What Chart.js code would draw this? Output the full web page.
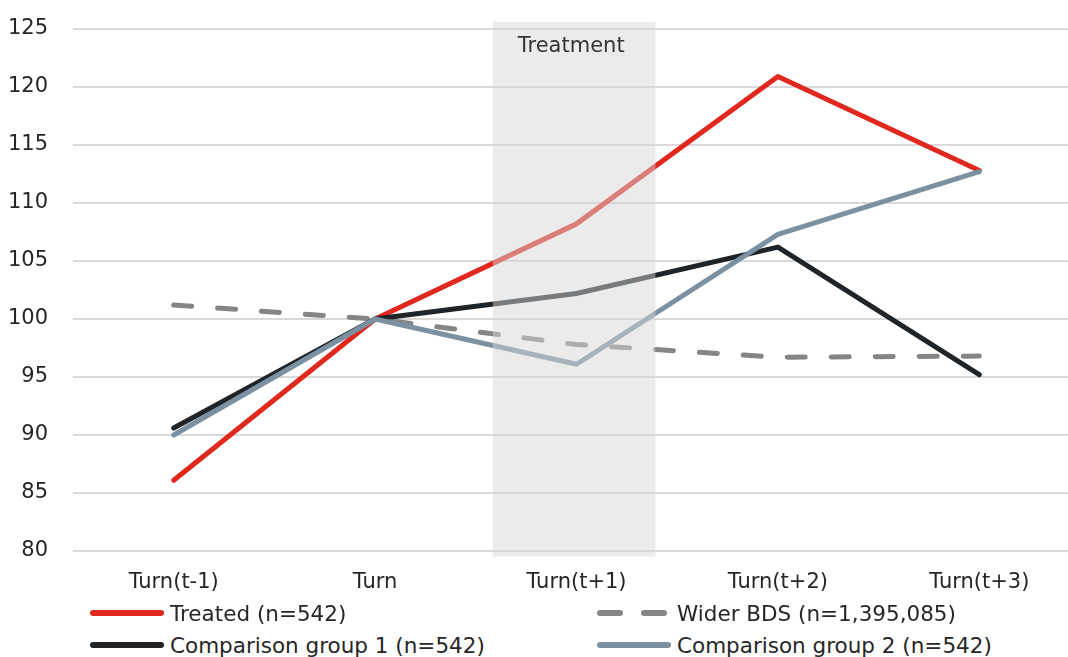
<!DOCTYPE html>
<html>
<head>
<meta charset="utf-8">
<script src="https://cdn.jsdelivr.net/npm/chart.js@4.4.1/dist/chart.umd.min.js"></script>
<style>
  html, body { margin: 0; padding: 0; background: #fff; overflow: hidden; }
  #wrap { position: relative; width: 1068px; height: 657px; overflow: hidden; background: #fff; }
  #holder { position: absolute; left: 0; top: 0; width: 1080px; height: 600px; }
  .item { position: absolute; display: flex; align-items: center; height: 30px;
          font-family: "DejaVu Sans", sans-serif; font-size: 21.5px; color: #262626; white-space: nowrap; }
  .item svg { margin-right: 6px; }
</style>
</head>
<body>
<div id="wrap">
  <div id="holder"><canvas id="chart" width="1080" height="600"></canvas></div>
  <div id="legend"></div>
</div>
<script>
// Index values, Turn = 100
const categories = ["Turn(t-1)", "Turn", "Turn(t+1)", "Turn(t+2)", "Turn(t+3)"];
const treated     = [86.1, 100, 108.2, 120.9, 112.8];
const widerBDS    = [101.2, 100, 97.8, 96.7, 96.8];
const comparison1 = [90.6, 100, 102.2, 106.2, 95.2];
const comparison2 = [90.0, 100, 96.1, 107.3, 112.7];
const seriesNames = ["Treated (n=542)", "Wider BDS (n=1,395,085)", "Comparison group 1 (n=542)", "Comparison group 2 (n=542)"];
const yTicks = [80, 85, 90, 95, 100, 105, 110, 115, 120, 125];
const treatmentLabel = "Treatment";
const treatmentIndex = 2;

const FONT = '"DejaVu Sans", sans-serif';
const colors = ["#e0281e", "#858585", "#1f2429", "#7b91a1"];

// Shaded band over the treatment period, drawn above the lines
const treatmentBand = {
  id: 'treatmentBand',
  afterDatasetsDraw(chart) {
    const { ctx, scales: { x, y } } = chart;
    const cx = x.getPixelForValue(treatmentIndex);
    const step = x.getPixelForValue(1) - x.getPixelForValue(0);
    const left = cx - 0.415 * step;
    const right = cx + 0.392 * step;
    const top = y.getPixelForValue(125.6);
    const bottom = y.getPixelForValue(79.5);
    ctx.save();
    ctx.fillStyle = 'rgba(214,214,214,0.49)';
    ctx.fillRect(left, top, right - left, bottom - top);
    ctx.fillStyle = '#333333';
    ctx.font = '21px ' + FONT;
    ctx.textAlign = 'center';
    ctx.textBaseline = 'middle';
    ctx.fillText(treatmentLabel, (left + right) / 2 - 3, y.getPixelForValue(123.45));
    ctx.restore();
  }
};

const lineBase = {
  borderWidth: 5,
  pointRadius: 0,
  pointHoverRadius: 0,
  tension: 0,
  fill: false,
  borderCapStyle: 'round',
  borderJoinStyle: 'round'
};

new Chart(document.getElementById('chart'), {
  type: 'line',
  data: {
    labels: categories,
    datasets: [
      { ...lineBase, label: seriesNames[0], data: treated, borderColor: colors[0], order: 3 },
      { ...lineBase, label: seriesNames[1], data: widerBDS, borderColor: colors[1], borderDash: [18, 26], order: 2 },
      { ...lineBase, label: seriesNames[2], data: comparison1, borderColor: colors[2], order: 1 },
      { ...lineBase, label: seriesNames[3], data: comparison2, borderColor: colors[3], order: 0 }
    ]
  },
  options: {
    responsive: false,
    animation: false,
    layout: { padding: { top: 29, right: 0, bottom: 0, left: 0 } },
    plugins: { legend: { display: false }, tooltip: { enabled: false } },
    scales: {
      x: {
        offset: true,
        grid: { display: false, drawTicks: false },
        border: { display: false },
        ticks: { color: '#262626', font: { family: FONT, size: 21 }, padding: 19, maxRotation: 0 },
        afterFit(scale) { scale.height = 49; }
      },
      y: {
        min: 80,
        max: 125,
        afterBuildTicks(scale) { scale.ticks = yTicks.map(v => ({ value: v })); },
        grid: { color: '#d9d9d9', lineWidth: 2, drawTicks: false },
        border: { display: false },
        ticks: { color: '#262626', font: { family: FONT, size: 21 }, padding: 25 },
        afterFit(scale) {
          scale.width = 73;
          scale.paddingTop = 0;
          scale.paddingBottom = 0;
        }
      }
    }
  },
  plugins: [treatmentBand]
});

// Two-column legend beneath the chart
const legendSpots = [
  { left: 90, top: 598 }, { left: 597, top: 598 },
  { left: 90, top: 630 }, { left: 597, top: 630 }
];
const legend = document.getElementById('legend');
seriesNames.forEach((name, i) => {
  const el = document.createElement('div');
  el.className = 'item';
  el.style.left = legendSpots[i].left + 'px';
  el.style.top = legendSpots[i].top + 'px';
  const dash = i === 1 ? ' stroke-dasharray="20 24"' : '';
  el.innerHTML = '<svg width="74" height="10"><line x1="3" y1="5" x2="71" y2="5" stroke="' + colors[i] +
    '" stroke-width="6" stroke-linecap="round"' + dash + '/></svg><span>' + name + '</span>';
  legend.appendChild(el);
});
</script>
</body>
</html>
